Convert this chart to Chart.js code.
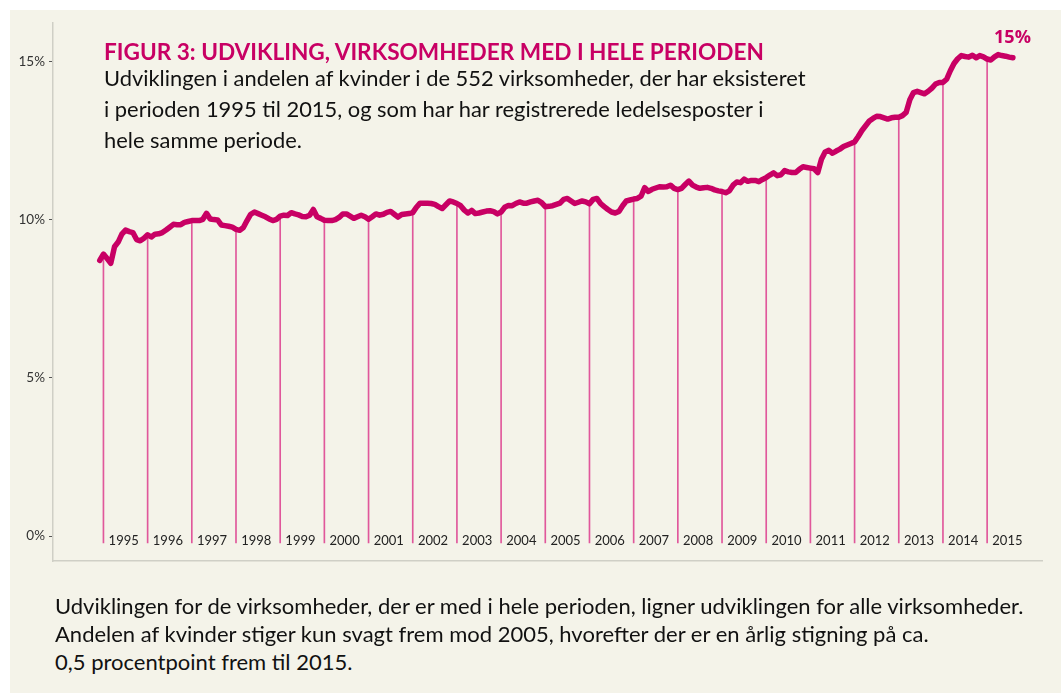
<!DOCTYPE html>
<html>
<head>
<meta charset="utf-8">
<script src="https://cdn.jsdelivr.net/npm/chart.js@4.4.1/dist/chart.umd.min.js"></script>
<style>
html,body{margin:0;padding:0;background:#ffffff;}
#page{position:relative;width:1061px;height:695px;overflow:hidden;background:#ffffff;}
#panel{position:absolute;left:10px;top:10px;width:1051px;height:683px;background:#f4f3e9;}
#chartBox{position:absolute;left:0;top:0;width:1061px;height:600px;}
.t{position:absolute;white-space:nowrap;font-family:Lato,"Liberation Sans",sans-serif;color:#111;}
.title{font-weight:700;color:#c80064;height:30px;line-height:30px;}
.sub{height:31px;line-height:31px;}
.foot{height:28px;line-height:28px;}
#endLabel{font-family:"Open Sans",sans-serif;font-weight:700;color:#c80064;height:22px;line-height:22px;}
</style>
</head>
<body>
<div id="page">
  <div id="panel"></div>
  <div id="chartBox"><canvas id="c"></canvas></div>
  <div class="t title" id="title" style="left:104px;top:37px;" data-w="661">FIGUR 3: UDVIKLING, VIRKSOMHEDER MED I HELE PERIODEN</div>
  <div class="t sub" id="sub1" style="left:104px;top:62px;" data-w="704">Udviklingen i andelen af kvinder i de 552 virksomheder, der har eksisteret</div>
  <div class="t sub" id="sub2" style="left:104px;top:93px;">i perioden 1995 til 2015, og som har har registrerede ledelsesposter i</div>
  <div class="t sub" id="sub3" style="left:104px;top:124px;">hele samme periode.</div>
  <div class="t" id="endLabel" style="left:994px;top:25px;" data-w="37">15%</div>
  <div class="t foot" id="foot1" style="left:55px;top:592px;" data-w="972">Udviklingen for de virksomheder, der er med i hele perioden, ligner udviklingen for alle virksomheder.</div>
  <div class="t foot" id="foot2" style="left:55px;top:620px;">Andelen af kvinder stiger kun svagt frem mod 2005, hvorefter der er en årlig stigning på ca.</div>
  <div class="t foot" id="foot3" style="left:55px;top:648px;">0,5 procentpoint frem til 2015.</div>
</div>
<script>
// ---- DATA ----
// Monthly share of women (%) in management positions, first value = December 1994
const firstMonthOffset = -1; // Dec 1994 relative to Jan 1995
const shareByMonth = [
  8.72,
  /*1995*/ 8.92, 8.78, 8.63, 9.15, 9.30, 9.55, 9.68, 9.63, 9.60, 9.38, 9.34, 9.42,
  /*1996*/ 9.53, 9.46, 9.55, 9.56, 9.60, 9.68, 9.77, 9.86, 9.85, 9.85, 9.92, 9.95,
  /*1997*/ 9.98, 9.98, 9.98, 10.02, 10.21, 10.03, 10.01, 10.00, 9.84, 9.82, 9.80, 9.77,
  /*1998*/ 9.70, 9.67, 9.76, 9.98, 10.18, 10.25, 10.20, 10.15, 10.10, 10.03, 9.98, 10.02,
  /*1999*/ 10.12, 10.15, 10.14, 10.23, 10.19, 10.16, 10.11, 10.10, 10.15, 10.33, 10.10, 10.05,
  /*2000*/ 9.99, 9.98, 9.98, 10.01, 10.08, 10.19, 10.19, 10.12, 10.05, 10.10, 10.15, 10.10,
  /*2001*/ 10.02, 10.10, 10.19, 10.15, 10.18, 10.24, 10.27, 10.18, 10.09, 10.17, 10.19, 10.20,
  /*2002*/ 10.23, 10.40, 10.53, 10.53, 10.53, 10.52, 10.49, 10.42, 10.36, 10.48, 10.60, 10.57,
  /*2003*/ 10.52, 10.45, 10.31, 10.22, 10.30, 10.20, 10.22, 10.25, 10.28, 10.29, 10.26, 10.19,
  /*2004*/ 10.25, 10.40, 10.46, 10.45, 10.52, 10.57, 10.53, 10.53, 10.57, 10.60, 10.62, 10.55,
  /*2005*/ 10.42, 10.43, 10.45, 10.49, 10.53, 10.65, 10.68, 10.60, 10.52, 10.56, 10.60, 10.57,
  /*2006*/ 10.51, 10.65, 10.68, 10.52, 10.42, 10.33, 10.25, 10.22, 10.27, 10.45, 10.60, 10.63,
  /*2007*/ 10.66, 10.68, 10.75, 11.02, 10.90, 10.97, 11.01, 11.05, 11.04, 11.05, 11.10, 11.00,
  /*2008*/ 10.96, 11.00, 11.12, 11.23, 11.10, 11.04, 11.00, 11.02, 11.03, 11.00, 10.95, 10.92,
  /*2009*/ 10.90, 10.86, 10.92, 11.10, 11.20, 11.18, 11.29, 11.22, 11.25, 11.25, 11.21, 11.28,
  /*2010*/ 11.34, 11.42, 11.49, 11.40, 11.43, 11.56, 11.52, 11.50, 11.50, 11.60, 11.68, 11.66,
  /*2011*/ 11.64, 11.62, 11.50, 11.92, 12.15, 12.20, 12.11, 12.18, 12.24, 12.32, 12.37, 12.42,
  /*2012*/ 12.47, 12.64, 12.83, 12.98, 13.13, 13.21, 13.28, 13.27, 13.23, 13.19, 13.23, 13.25,
  /*2013*/ 13.25, 13.30, 13.40, 13.80, 14.03, 14.07, 14.03, 13.99, 14.07, 14.17, 14.30, 14.35,
  /*2014*/ 14.35, 14.45, 14.72, 14.95, 15.10, 15.20, 15.17, 15.15, 15.21, 15.13, 15.20, 15.16,
  /*2015*/ 15.09, 15.06, 15.16, 15.23, 15.20, 15.18, 15.15, 15.13
];
const yearLabels = ['1995','1996','1997','1998','1999','2000','2001','2002','2003','2004','2005',
                    '2006','2007','2008','2009','2010','2011','2012','2013','2014','2015'];
const yTicks = [0, 5, 10, 15];
const dropLineBase = -0.22;

// ---- STYLE ----
const MAGENTA = '#c80064';
const DROP = '#e0579b';
const AXIS_GREY = '#cfcfc6';
const X_MIN = -13.7, X_MAX = 254.9;

// fit text widths
(function(){
  const ctx = document.createElement('canvas').getContext('2d');
  function fitGroup(ids){
    const el = document.getElementById(ids[0]);
    const cs = getComputedStyle(el);
    ctx.font = cs.fontWeight + ' 100px ' + cs.fontFamily;
    const w = ctx.measureText(el.textContent).width;
    const size = 100 * (+el.dataset.w) / w;
    ids.forEach(id => document.getElementById(id).style.fontSize = size + 'px');
  }
  fitGroup(['title']);
  fitGroup(['sub1','sub2','sub3']);
  fitGroup(['foot1','foot2','foot3']);
  fitGroup(['endLabel']);
})();

const linePoints = shareByMonth.map((v, i) => ({x: i + firstMonthOffset, y: v}));
const dropLines = yearLabels.map((_, k) => ({x: k * 12, y: [dropLineBase, shareByMonth[k * 12 - firstMonthOffset]]}));

new Chart(document.getElementById('c'), {
  data: {
    datasets: [
      {type: 'line', data: linePoints, borderColor: MAGENTA, borderWidth: 5.5, pointRadius: 0,
       tension: 0, borderJoinStyle: 'round', borderCapStyle: 'round', order: 0, clip: false},
      {type: 'bar', data: dropLines, backgroundColor: DROP, barThickness: 1, order: 1}
    ]
  },
  options: {
    responsive: true, maintainAspectRatio: false, animation: false,
    layout: {padding: {top: 23, right: 19, left: 0, bottom: 0}},
    plugins: {legend: {display: false}, tooltip: {enabled: false}},
    scales: {
      x: {
        type: 'linear', min: X_MIN, max: X_MAX, offset: false,
        position: {y: 0},
        grid: {display: false, drawTicks: false},
        border: {display: false},
        afterBuildTicks: s => { s.ticks = yearLabels.map((_, k) => ({value: k * 12 + 5.5})); },
        ticks: {
          autoSkip: false, maxRotation: 0, padding: -3,
          color: '#222', font: {family: 'Lato', size: 13},
          callback: v => yearLabels[Math.round((v - 5.5) / 12)]
        }
      },
      xb: {
        type: 'linear', min: X_MIN, max: X_MAX, offset: false, position: 'bottom',
        grid: {display: false, drawTicks: false},
        border: {display: true, color: AXIS_GREY, width: 1.5},
        ticks: {display: false},
        afterFit: s => { s.height = 39; }
      },
      y: {
        min: -0.79, max: 16.23,
        grid: {drawOnChartArea: false, drawTicks: true, tickLength: 4, color: '#555', lineWidth: 1},
        border: {display: true, color: AXIS_GREY, width: 1.5},
        afterBuildTicks: s => { s.ticks = yTicks.map(v => ({value: v})); },
        afterFit: s => { s.width = 53; },
        ticks: {padding: 4, color: '#333', font: {family: 'Lato', size: 13.5}, callback: v => v + '%'}
      }
    }
  }
});
</script>
</body>
</html>
